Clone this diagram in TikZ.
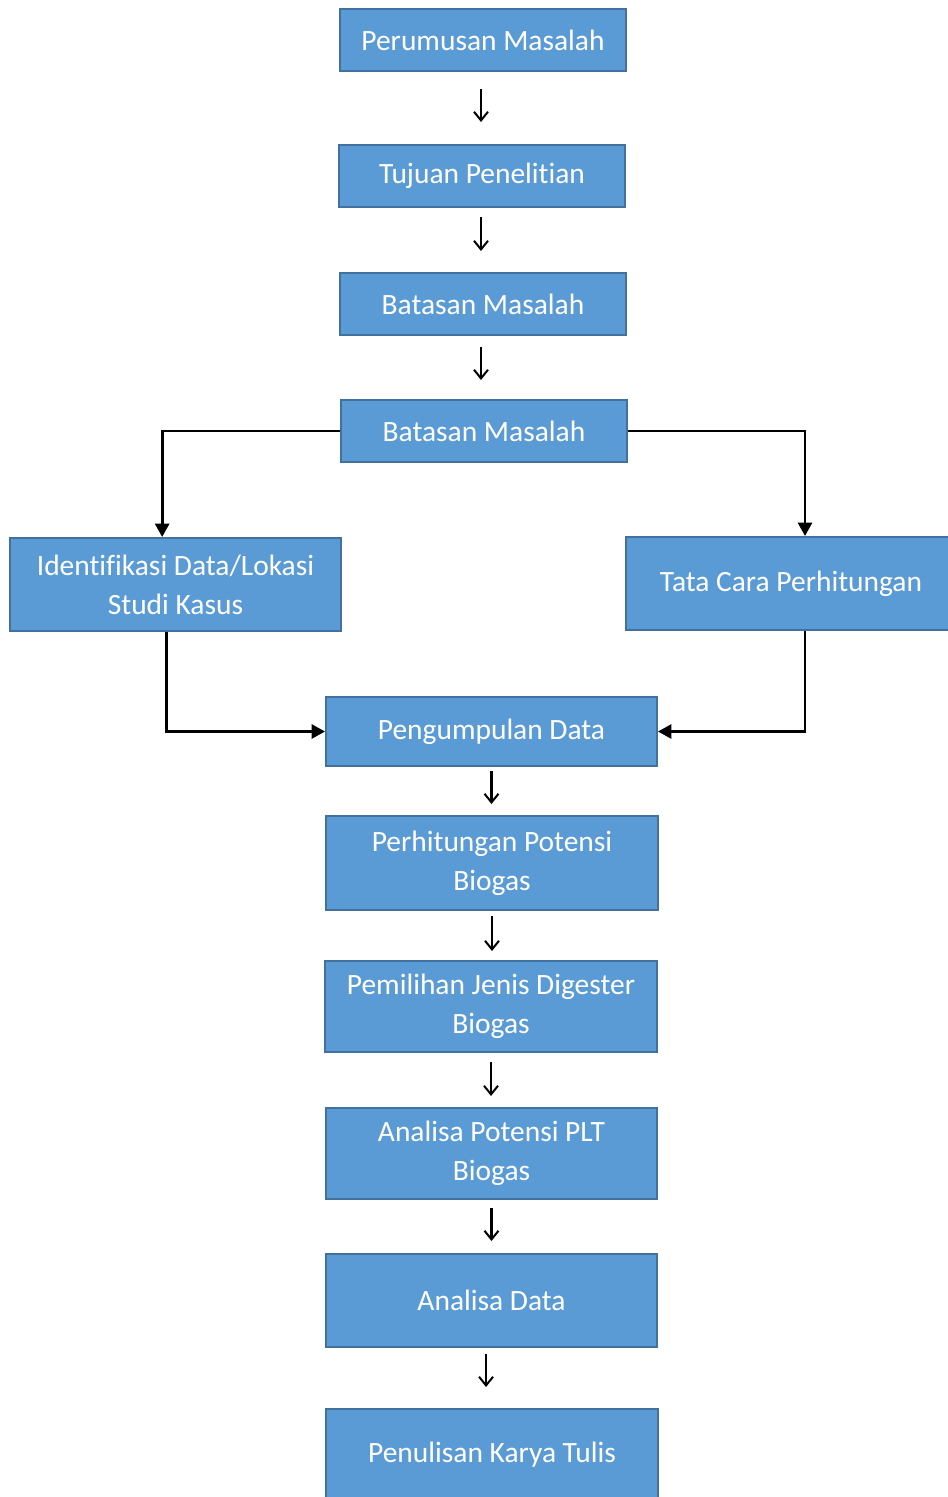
\documentclass[tikz,border=0pt]{standalone}
\usepackage{fontspec}
\setmainfont[Ligatures=NoCommon]{Carlito}
\usetikzlibrary{positioning,arrows.meta}
\definecolor{boxfill}{RGB}{91,155,213}
\definecolor{boxline}{RGB}{65,113,156}
\tikzset{
    stage/.style={draw=boxline, line width=1.5pt, fill=boxfill, text=white, align=center,
        inner sep=0pt, font=\fontsize{22.1pt}{29.3pt}\selectfont},
    conn/.style={line width=2pt, -{Triangle[length=10pt,width=10.5pt]}},
    flow/.style={line width=1.6pt, -{Straight Barb[length=6.5pt,width=10.5pt,line width=1.5pt]}}
}
\begin{document}
\begin{tikzpicture}[x=0.75pt,y=-0.75pt]
        \useasboundingbox (0,0) rectangle (947,1497);

        \node[stage, minimum width=214.5pt, minimum height=46.5pt] (PM) at (483,40) {Perumusan Masalah};
        \node[stage, minimum width=214.5pt, minimum height=46.5pt] (TP) at (482,176) {Tujuan Penelitian};
        \node[stage, minimum width=214.5pt, minimum height=46.5pt] (BM1) at (483,304) {Batasan Masalah};
        \node[stage, minimum width=214.5pt, minimum height=46.5pt] (BM2) at (484,431) {Batasan Masalah};

        \node[stage, minimum width=248.25pt, minimum height=69.75pt] (ID) at (175.5,584.5) {Identifikasi Data/Lokasi\\Studi Kasus};
        \node[stage, minimum width=247.5pt, minimum height=69.75pt] (TC) at (791,583.5) {Tata Cara Perhitungan};

        \node[stage, minimum width=248.25pt, minimum height=51.75pt] (PD) at (491.5,731.5) {Pengumpulan Data};
        \node[stage, minimum width=249pt, minimum height=70.5pt] (PP) at (492,863) {Perhitungan Potensi\\Biogas};
        \node[stage, minimum width=249pt, minimum height=68.25pt] (PJ) at (491,1006.5) {Pemilihan Jenis Digester\\Biogas};
        \node[stage, minimum width=248.25pt, minimum height=68.25pt] (AP) at (491.5,1153.5) {Analisa Potensi PLT\\Biogas};
        \node[stage, minimum width=248.25pt, minimum height=69.75pt] (AD) at (491.5,1300.5) {Analisa Data};
        \node[stage, minimum width=249pt, minimum height=69pt] (PK) at (492,1455) {Penulisan Karya Tulis};

        \foreach \a/\b/\s/\e/\dx in {PM/TP/12.75/16.5/-1.5, TP/BM1/6.75/15.75/-0.75, BM1/BM2/8.25/14.25/-1.5,
                PD/PP/3/8.25/0, PP/PJ/3.75/6.75/0, PJ/AP/6.75/8.25/0, AP/AD/6/9/0, AD/PK/4.5/15.75/-4.1}
            \draw[flow, shorten <=\s pt, shorten >=\e pt] ([xshift=\dx pt]\a.south) -- ([xshift=\dx pt]\a.south |- \b.north);

        \draw[conn] (BM2.west) -| ([xshift=-10pt]ID.north);
        \draw[conn] (BM2.east) -| ([xshift=10.5pt]TC.north);
        \draw[conn] ([xshift=-7pt]ID.south) |- (PD.west);
        \draw[conn] ([xshift=10.5pt]TC.south) |- (PD.east);
    \end{tikzpicture}
\end{document}
